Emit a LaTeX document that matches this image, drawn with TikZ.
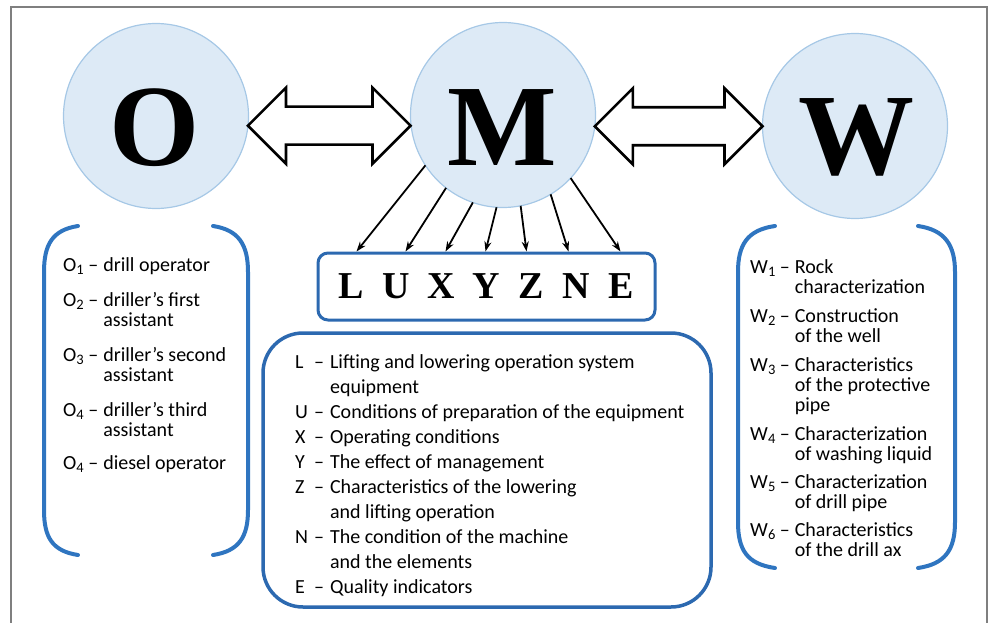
\documentclass[tikz,border=0pt]{standalone}
\usepackage{fontspec}
\setmainfont{Carlito}
\newfontfamily\tms{Liberation Serif}
\usetikzlibrary{calc,arrows.meta}
\definecolor{cfill}{HTML}{DDEAF6}
\definecolor{cline}{HTML}{A6C8E6}
\definecolor{brblue}{HTML}{2F75C0}
\definecolor{bxblue}{HTML}{2C69B0}
\definecolor{frame}{HTML}{7F7F7F}
\newcommand\sbs[1]{\raisebox{-0.15em}{\fontsize{14.5}{14.5}\selectfont #1}}
\tikzset{
  bigc/.style={circle, minimum size=185pt, inner sep=0pt, outer sep=0pt, fill=cfill, draw=cline, line width=1.2pt},
  bigletter/.style={anchor=base, inner sep=0pt, font=\tms\bfseries\fontsize{116}{116}\selectfont},
  dbl/.style={draw=black, fill=white, line width=2.6pt, line join=miter},
  fan/.style={-{Stealth[length=10pt,width=7pt]}, line width=1.8pt, black},
  brk/.style={draw=brblue, line width=4pt, line cap=round},
  listtext/.style={anchor=base west, inner sep=0pt, align=left},
}
\newcommand\dblarrow[2]{%
  \draw[dbl] (#1) -- +(38,-38) -- +(38,-19) -- ($(#2)+(-38,-19)$) -- ($(#2)+(-38,-38)$) -- (#2)
    -- ($(#2)+(-38,38)$) -- ($(#2)+(-38,19)$) -- ($(#1)+(38,19)$) -- ($(#1)+(38,38)$) -- cycle;}
\begin{document}
\begin{tikzpicture}[x=1pt,y=-1pt]
\useasboundingbox (0,0) rectangle (995,623);
% frame
\draw[frame, line width=1.5pt] (11,630) -- (11,7) -- (987,7) -- (987,630);

% circles
\node[bigc] (O) at (156,116) {};
\node[bigc] (M) at (503,115) {};
\node[bigc] (W) at (855,126) {};
\node[bigletter] (Ot) at (155,165) {O};
\node[bigletter] (Mt) at (502,165) {M};
\node[bigletter] (Wt) at (856,174) {W};

% double arrows
\coordinate (a1) at (O.-6.2);
\coordinate (a2) at (M.west |- a1);
\dblarrow{a1}{a2}
\coordinate (b1) at (M.-7.5);
\coordinate (b2) at (W.west |- b1);
\dblarrow{b1}{b2}

% LUXYZNE box
\node[draw=bxblue, line width=3pt, rounded corners=10pt, minimum width=337pt, minimum height=67pt, inner sep=0pt,
      font=\tms\bfseries\fontsize{38}{38}\selectfont] (lux) at (486.5,286.5)
  {\makebox[45pt]{L}\makebox[45pt]{U}\makebox[45pt]{X}\makebox[45pt]{Y}\makebox[45pt]{Z}\makebox[45pt]{N}\makebox[45pt]{E}};

% fan arrows
\foreach \ang/\dx [count=\i] in {213/40, 232/89, 251/129, 266/169, 281/210, 301/252, 317/304}{
  \coordinate (f\i) at ($(lux.north west)+(\dx,0)$);
  \draw[fan] (M.\ang) -- (f\i);
}

% description box
\node[draw=bxblue, line width=3.5pt, rounded corners=40pt, minimum width=448pt, minimum height=274pt] (desc) at (487,470) {};
\node[listtext] (desctext) at (295,368) {%
  \fontsize{20}{25}\selectfont
  \begin{tabular}[t]{@{}l@{\hspace{6pt}}l@{\hspace{6pt}}l@{}}
  L & -- & Lifting and lowering operation system\\
    &    & equipment\\
  U & -- & Conditions of preparation of the equipment\\
  X & -- & Operating conditions\\
  Y & -- & The effect of management\\
  Z & -- & Characteristics of the lowering\\
    &    & and lifting operation\\
  N & -- & The condition of the machine\\
    &    & and the elements\\
  E & -- & Quality indicators
  \end{tabular}};

% left bracket
\draw[brk] (78,226) .. controls (52,230) and (44,245) .. (44,272) -- (44,510) .. controls (44,537) and (52,551) .. (78,555);
\draw[brk] (213,226) .. controls (239,230) and (248,245) .. (248,272) -- (248,510) .. controls (248,537) and (239,551) .. (213,555);
\node[listtext] (otext) at (63,271.5) {%
  \fontsize{20}{20}\selectfont
  \begin{tabular}[t]{@{}l@{\hspace{5pt}}l@{}}
  O\sbs{1} -- & drill operator\\[15pt]
  O\sbs{2} -- & driller’s first\\
              & assistant\\[15pt]
  O\sbs{3} -- & driller’s second\\
              & assistant\\[15pt]
  O\sbs{4} -- & driller’s third\\
              & assistant\\[13pt]
  O\sbs{4} -- & diesel operator
  \end{tabular}};

% right bracket
\draw[brk] (775,226) .. controls (747,230) and (738,245) .. (738,272) -- (738,522) .. controls (738,550) and (747,564) .. (775,568);
\draw[brk] (918,226) .. controls (945,230) and (955,245) .. (955,272) -- (955,522) .. controls (955,550) and (945,564) .. (918,568);
\node[listtext] (wtext) at (750,273) {%
  \fontsize{20}{20}\selectfont
  \begin{tabular}[t]{@{}l@{\hspace{5pt}}l@{}}
  W\sbs{1} -- & Rock\\
              & characterization\\[9pt]
  W\sbs{2} -- & Construction\\
              & of the well\\[9pt]
  W\sbs{3} -- & Characteristics\\
              & of the protective\\
              & pipe\\[9pt]
  W\sbs{4} -- & Characterization\\
              & of washing liquid\\[8pt]
  W\sbs{5} -- & Characterization\\
              & of drill pipe\\[8pt]
  W\sbs{6} -- & Characteristics\\
              & of the drill ax
  \end{tabular}};
\end{tikzpicture}
\end{document}
